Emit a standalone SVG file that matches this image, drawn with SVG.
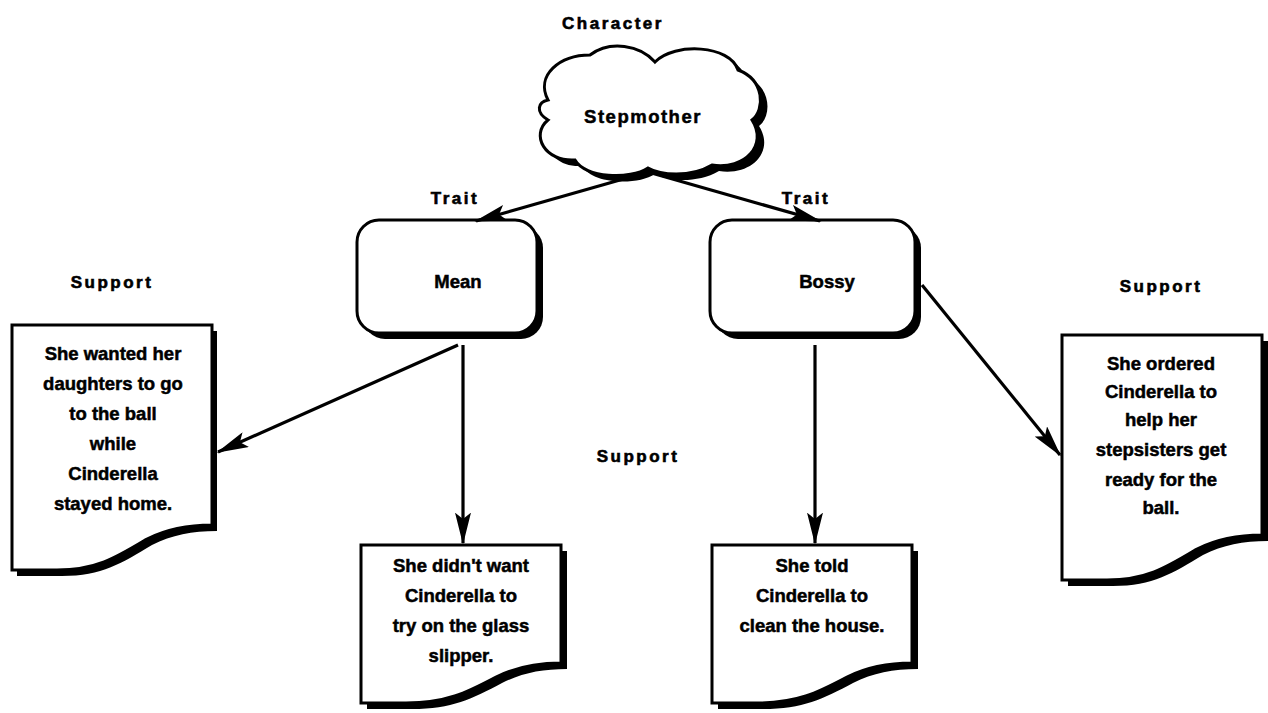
<svg xmlns="http://www.w3.org/2000/svg" width="1268" height="713" viewBox="0 0 1268 713">
<defs>
<style>
.lbl{font-family:"Liberation Sans",Arial,sans-serif;font-weight:bold;font-size:17px;fill:#000;stroke:#000;stroke-width:0.6;text-anchor:middle;letter-spacing:2.5px}
.txt{font-family:"Liberation Sans",Arial,sans-serif;font-weight:bold;font-size:18.5px;fill:#000;stroke:#000;stroke-width:0.5;text-anchor:middle}
.box{fill:#fff;stroke:#000;stroke-width:3}
.shadow{fill:#000}
.conn{stroke:#000;stroke-width:3.2;fill:none;marker-end:url(#ah)}
</style>
<marker id="ah" viewBox="0 0 20 10" refX="19" refY="5" markerWidth="10" markerHeight="5" orient="auto" markerUnits="strokeWidth">
<path d="M0,0 L20,5 L0,10 L4,5 Z" fill="#000"/>
</marker>
<path id="doc" d="M0,0 H200 V200 C175,200 155,204 135,214 C105,232 85,245 45,245 H0 Z"/>
<path id="doc2" d="M0,0 H200 V118 C175,118 155,122 135,132 C105,148 85,158 45,158 H0 Z"/>
</defs>
<rect width="1268" height="713" fill="#fff"/>

<text class="lbl" x="613" y="29">Character</text>
<text class="lbl" x="455" y="204">Trait</text>
<text class="lbl" x="806" y="204">Trait</text>
<text class="lbl" x="112" y="288">Support</text>
<text class="lbl" x="638" y="462">Support</text>
<text class="lbl" x="1161" y="292">Support</text>

<g id="stepmother">
<path class="shadow" transform="translate(7,6)" d="M548,100 C535,75 560,55 590,55 C610,40 640,45 655,62 C675,42 730,45 738,70 C765,80 765,110 752,120 C768,145 745,170 712,165 C690,178 660,175 648,168 C630,180 585,178 575,160 C545,162 530,135 548,120 C535,112 538,102 548,100 Z"/>
<path class="box" stroke-width="4" d="M548,100 C535,75 560,55 590,55 C610,40 640,45 655,62 C675,42 730,45 738,70 C765,80 765,110 752,120 C768,145 745,170 712,165 C690,178 660,175 648,168 C630,180 585,178 575,160 C545,162 530,135 548,120 C535,112 538,102 548,100 Z"/>
<text class="txt" x="643" y="123" style="letter-spacing:1.5px">Stepmother</text>
</g>

<g id="mean">
<rect class="shadow" x="363" y="226" width="180" height="113" rx="22"/>
<rect class="box" x="357" y="220" width="180" height="113" rx="22"/>
<text class="txt" x="458" y="288">Mean</text>
</g>

<g id="bossy">
<rect class="shadow" x="716" y="226" width="205" height="113" rx="22"/>
<rect class="box" x="710" y="220" width="205" height="113" rx="22"/>
<text class="txt" x="827" y="288">Bossy</text>
</g>

<g id="support1">
<use href="#doc" x="17" y="331" class="shadow"/>
<use href="#doc" x="12" y="325" class="box"/>
<text class="txt" x="113" y="360">She wanted her</text>
<text class="txt" x="113" y="390">daughters to go</text>
<text class="txt" x="113" y="420">to the ball</text>
<text class="txt" x="113" y="450">while</text>
<text class="txt" x="113" y="480">Cinderella</text>
<text class="txt" x="113" y="510">stayed home.</text>
</g>

<g id="support2">
<use href="#doc2" x="367" y="551" class="shadow"/>
<use href="#doc2" x="361" y="545" class="box"/>
<text class="txt" x="461" y="572">She didn't want</text>
<text class="txt" x="461" y="602">Cinderella to</text>
<text class="txt" x="461" y="632">try on the glass</text>
<text class="txt" x="461" y="662">slipper.</text>
</g>

<g id="support3">
<use href="#doc2" x="718" y="551" class="shadow"/>
<use href="#doc2" x="712" y="545" class="box"/>
<text class="txt" x="812" y="572">She told</text>
<text class="txt" x="812" y="602">Cinderella to</text>
<text class="txt" x="812" y="632">clean the house.</text>
</g>

<g id="support4">
<use href="#doc" x="1068" y="341" class="shadow"/>
<use href="#doc" x="1062" y="335" class="box"/>
<text class="txt" x="1161" y="370">She ordered</text>
<text class="txt" x="1161" y="398">Cinderella to</text>
<text class="txt" x="1161" y="426">help her</text>
<text class="txt" x="1161" y="456">stepsisters get</text>
<text class="txt" x="1161" y="486">ready for the</text>
<text class="txt" x="1161" y="514">ball.</text>
</g>

<g id="connectors">
<line class="conn" x1="648" y1="172" x2="476" y2="221"/>
<line class="conn" x1="648" y1="172" x2="820" y2="221"/>
<line class="conn" x1="458" y1="345" x2="218" y2="452"/>
<line class="conn" x1="463" y1="345" x2="463" y2="543"/>
<line class="conn" x1="815" y1="345" x2="815" y2="543"/>
<line class="conn" x1="922" y1="285" x2="1060" y2="455"/>
</g>
</svg>
